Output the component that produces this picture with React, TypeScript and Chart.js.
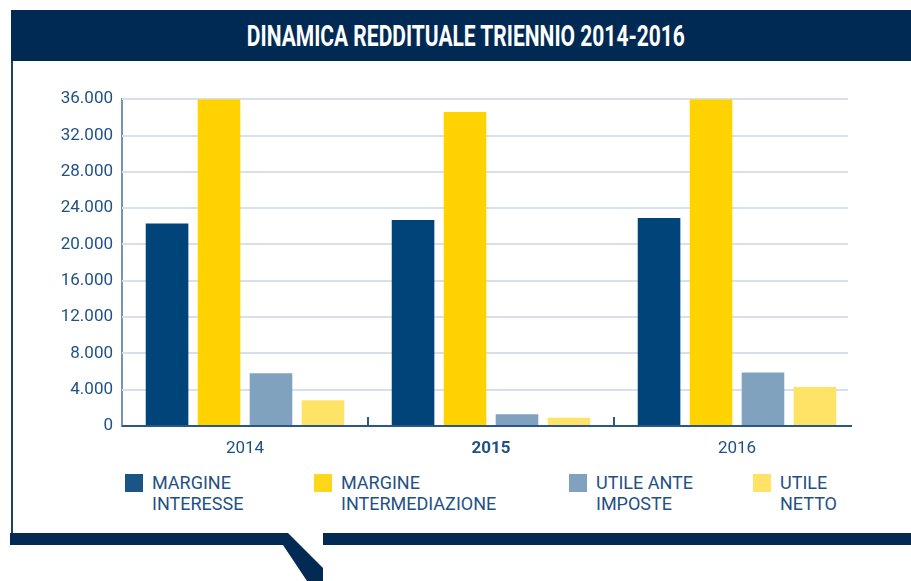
import React, { useEffect, useRef } from "react";
import { Chart, registerables } from "chart.js";

Chart.register(...registerables);

const categories = ["2014", "2015", "2016"];
const margineInteresse = [22300, 22700, 22900];
const margineIntermediazione = [36000, 34600, 36000];
const utileAnteImposte = [5800, 1300, 5900];
const utileNetto = [2850, 900, 4300];
const yTicks = [0, 4000, 8000, 12000, 16000, 20000, 24000, 28000, 32000, 36000];

const seriesNames = [
  ["MARGINE", "INTERESSE"],
  ["MARGINE", "INTERMEDIAZIONE"],
  ["UTILE ANTE", "IMPOSTE"],
  ["UTILE", "NETTO"],
];
const barColors = ["#00447A", "#FFD200", "#80A2BE", "#FFE366"];
const legendColors = ["#1A5586", "#FFD61A", "#80A2BE", "#FFE366"];
const legendX = [125, 314, 569, 753];
const TEXT = "#1F5185";
const FONT = "Roboto, 'DejaVu Sans', sans-serif";

function fmt(v: number): string {
  return String(v).replace(/\B(?=(\d{3})+(?!\d))/g, ".");
}

const axesDecor = {
  id: "axesDecor",
  beforeDatasetsDraw(chart: any) {
    const x = chart.scales.x;
    const y = chart.scales.y;
    const ctx = chart.ctx;
    const gridRight = chart.chartArea.right - 12;
    ctx.save();
    ctx.strokeStyle = "#D7E1EB";
    ctx.lineWidth = 2;
    yTicks.forEach((v) => {
      if (v === 0) return;
      const py = Math.round(y.getPixelForValue(v));
      ctx.beginPath();
      ctx.moveTo(x.left, py);
      ctx.lineTo(gridRight, py);
      ctx.stroke();
    });
    ctx.restore();
  },
  afterDatasetsDraw(chart: any) {
    const x = chart.scales.x;
    const y = chart.scales.y;
    const ctx = chart.ctx;
    const axisRight = chart.chartArea.right - 8;
    const base = Math.round(y.getPixelForValue(0));
    ctx.save();
    ctx.strokeStyle = "#2A5783";
    ctx.lineWidth = 2;
    ctx.beginPath();
    ctx.moveTo(x.left, base);
    ctx.lineTo(axisRight, base);
    ctx.stroke();
    for (let i = 0; i < categories.length - 1; i++) {
      const px = Math.round((x.getPixelForValue(i) + x.getPixelForValue(i + 1)) / 2);
      ctx.beginPath();
      ctx.moveTo(px, base);
      ctx.lineTo(px, base - 9);
      ctx.stroke();
    }
    ctx.restore();
  },
};

export default function App() {
  const ref = useRef<HTMLCanvasElement>(null);
  useEffect(() => {
    if (!ref.current) return;
    const data = [margineInteresse, margineIntermediazione, utileAnteImposte, utileNetto];
    const chart = new Chart(ref.current, {
      type: "bar",
      data: {
        labels: categories,
        datasets: data.map((d, i) => ({
          label: seriesNames[i].join(" "),
          data: d,
          backgroundColor: barColors[i],
          borderWidth: 0,
          categoryPercentage: 0.845,
          barPercentage: 0.82,
        })),
      },
      options: {
        responsive: false,
        animation: false,
        devicePixelRatio: 1,
        layout: { padding: { top: 11, right: 0, left: 0, bottom: 0 } },
        plugins: { legend: { display: false }, tooltip: { enabled: false } },
        scales: {
          x: {
            grid: { display: false },
            border: { display: false },
            ticks: {
              padding: 5,
              color: TEXT,
              font: (c: any) => ({
                family: FONT,
                size: 17,
                weight: c.index === 1 ? "bold" : "normal",
              }),
            },
            afterFit: (s: any) => {
              s.height = 44;
            },
          },
          y: {
            min: 0,
            max: 36000,
            afterBuildTicks: (s: any) => {
              s.ticks = yTicks.map((v) => ({ value: v }));
            },
            grid: { display: false, drawTicks: false },
            border: { display: true, color: "#7393B3", width: 2 },
            ticks: {
              padding: 9,
              color: TEXT,
              font: { family: FONT, size: 17 },
              callback: (v: any) => fmt(Number(v)),
            },
            afterFit: (s: any) => {
              s.width = 102;
            },
          },
        },
      },
      plugins: [axesDecor],
    });
    return () => chart.destroy();
  }, []);

  return (
    <div
      style={{
        position: "absolute",
        left: 0,
        top: 0,
        width: 911,
        height: 581,
        overflow: "hidden",
        background: "#fff",
        fontFamily: FONT,
      }}
    >
      <svg width={911} height={581} style={{ position: "absolute", left: 0, top: 0 }}>
        <rect x={11} y={10} width={900} height={51} fill="#002A54" />
        <rect x={11} y={61} width={2} height={473} fill="#1F3F63" />
        <polygon
          points="10,533 288,533 323,568 323,581 307,581 283,545 10,545"
          fill="#022A52"
        />
        <rect x={323} y={533} width={588} height={12} fill="#022A52" />
      </svg>
      <div
        style={{
          position: "absolute",
          left: 0,
          top: 10,
          width: 932,
          height: 51,
          lineHeight: "51px",
          textAlign: "center",
          color: "#fff",
          whiteSpace: "nowrap",
        }}
      >
        <span
          style={{
            display: "inline-block",
            fontWeight: "bold",
            fontSize: 30,
            transform: "scaleX(0.70)",
          }}
        >
          DINAMICA REDDITUALE TRIENNIO 2014-2016
        </span>
      </div>
      <div style={{ position: "absolute", left: 20, top: 80, width: 840, height: 390 }}>
        <canvas ref={ref} width={840} height={390} />
      </div>
      {seriesNames.map((name, i) => (
        <React.Fragment key={i}>
          <div
            style={{
              position: "absolute",
              left: legendX[i],
              top: 474,
              width: 18,
              height: 18,
              background: legendColors[i],
            }}
          />
          <div
            style={{
              position: "absolute",
              left: legendX[i] + 27,
              top: 472,
              fontSize: 18,
              lineHeight: "21px",
              color: TEXT,
              whiteSpace: "nowrap",
            }}
          >
            {name[0]}
            <br />
            {name[1]}
          </div>
        </React.Fragment>
      ))}
    </div>
  );
}
